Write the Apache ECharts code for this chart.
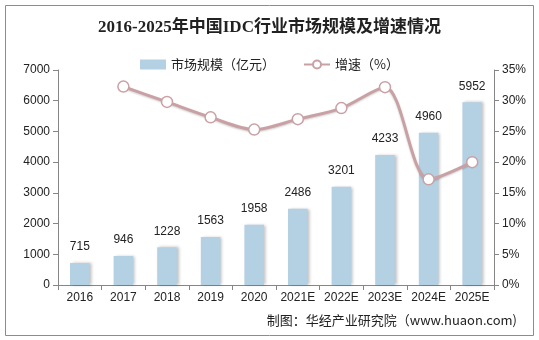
<!DOCTYPE html>
<html><head><meta charset="utf-8">
<script src="https://cdn.jsdelivr.net/npm/echarts@6/dist/echarts.min.js"></script>
<style>html,body{margin:0;padding:0;background:#fff}#c{width:539px;height:340px}</style>
</head><body><div id="c"></div>
<script>
const categories = ['2016','2017','2018','2019','2020','2021E','2022E','2023E','2024E','2025E'];
const marketSize = [715, 946, 1228, 1563, 1958, 2486, 3201, 4233, 4960, 5952];
const growth = [null, 32.3, 29.8, 27.3, 25.3, 27.0, 28.8, 32.2, 17.2, 20.0];
const leftTicks = [0, 7000, 1000];
const rightTicks = [0, 35, 5];

const chart = echarts.init(document.getElementById('c'));
const axisColor = '#868686';
chart.setOption({
  animation: false,
  graphic: [
    {type:'rect', shape:{x:5.5,y:5.5,width:528,height:330}, style:{fill:'none', stroke:'#8c8c8c', lineWidth:1}},
    {type:'text', right: 22, top: 314, style:{text:'制图：华经产业研究院（www.huaon.com)', fontFamily:'Noto Sans CJK SC', fontSize: 13, fill:'#222'}}
  ],
  title: {
    text: '2016-2025年中国IDC行业市场规模及增速情况',
    left: 'center', top: 14,
    textStyle: {fontFamily: 'Liberation Serif, Noto Sans CJK SC', fontWeight: 'bold', fontSize: 17, color: '#222'}
  },
  legend: {
    top: 53, left: 'center', itemGap: 28, itemWidth: 26, itemHeight: 10,
    textStyle: {fontFamily: 'Noto Sans CJK SC', fontSize: 13, color: '#222'},
    data: [{name:'市场规模（亿元）', icon:'rect'}, {name:'增速（%）'}]
  },
  grid: {left: 58, right: 45, top: 70, bottom: 55, containLabel: false},
  xAxis: {
    type: 'category', data: categories,
    axisLine: {lineStyle: {color: axisColor}},
    axisTick: {show: true, interval: 0, lineStyle: {color: axisColor}},
    axisLabel: {interval: 0, color: '#222', fontSize: 12, fontFamily: 'Liberation Sans, Arial', margin: 7}
  },
  yAxis: [{
    type: 'value', min: leftTicks[0], max: leftTicks[1], interval: leftTicks[2],
    splitLine: {show: false},
    axisLine: {show: true, lineStyle: {color: axisColor}},
    axisTick: {show: true, lineStyle: {color: axisColor}},
    axisLabel: {color: '#222', fontSize: 12, fontFamily: 'Liberation Sans, Arial', margin: 8, formatter: v => String(v)}
  }, {
    type: 'value', min: rightTicks[0], max: rightTicks[1], interval: rightTicks[2],
    splitLine: {show: false},
    axisLine: {show: true, lineStyle: {color: axisColor}},
    axisTick: {show: true, lineStyle: {color: axisColor}},
    axisLabel: {color: '#222', fontSize: 12, fontFamily: 'Liberation Sans, Arial', formatter: '{value}%', margin: 8}
  }],
  series: [{
    name: '市场规模（亿元）', type: 'bar', data: marketSize, barWidth: '45%',
    itemStyle: {color: '#b4d0e3', shadowColor: 'rgba(0,0,0,0.25)', shadowBlur: 3, shadowOffsetX: 2},
    label: {show: true, position: 'top', distance: 10, color: '#222', fontSize: 12, fontFamily: 'Liberation Sans, Arial'}
  }, {
    name: '增速（%）', type: 'line', yAxisIndex: 1, data: growth, smooth: 0.3,
    symbol: 'circle', symbolSize: 11,
    lineStyle: {color: '#c9a1a5', width: 3, shadowColor:'rgba(0,0,0,0.2)', shadowBlur:2, shadowOffsetY:1},
    itemStyle: {color: '#ffffff', borderColor: '#c9a1a5', borderWidth: 1.5}
  }]
});
</script></body></html>
